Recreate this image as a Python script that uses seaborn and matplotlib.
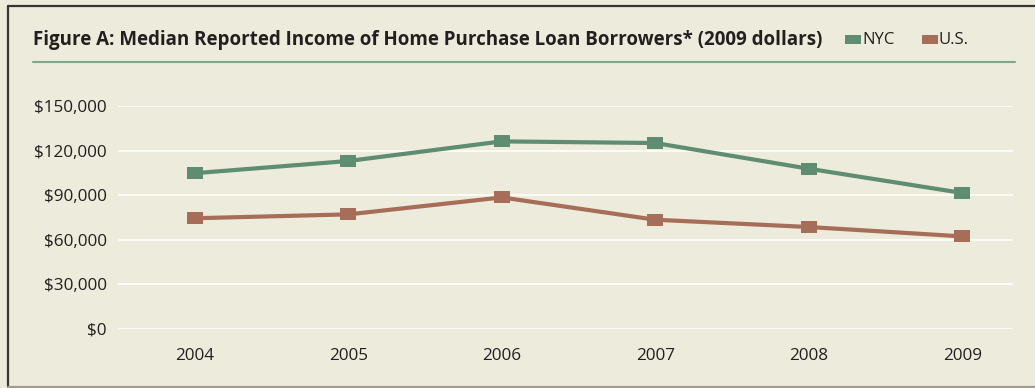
import matplotlib
matplotlib.use("Agg")
import matplotlib.pyplot as plt
import seaborn as sns
import pandas as pd
from matplotlib.patches import Rectangle
from matplotlib.lines import Line2D
from matplotlib.ticker import FuncFormatter, FixedLocator

years = ["2004", "2005", "2006", "2007", "2008", "2009"]
nyc = [104800, 113000, 126200, 125100, 107800, 91500]
us = [74500, 77100, 88500, 73500, 68600, 62300]
series_names = ["NYC", "U.S."]
yticks = [0, 30000, 60000, 90000, 120000, 150000]

BG = "#EDEBDB"
GREEN = "#5F8D72"
RED = "#A66E59"
TEXT = "#231F20"

sns.set_theme(style="white")
plt.rcParams["font.family"] = ["Open Sans", "DejaVu Sans"]

df = pd.DataFrame({
    "year": years * 2,
    "value": nyc + us,
    "series": [series_names[0]] * len(years) + [series_names[1]] * len(years),
})

fig = plt.figure(figsize=(10.35, 3.88), dpi=100)
fig.patch.set_facecolor(BG)
ax = fig.add_axes([118 / 1035, 1 - 329 / 388, (1013 - 118) / 1035, (329 - 106) / 388])
ax.set_facecolor(BG)

rect_marker = [(-1.4, -1), (1.4, -1), (1.4, 1), (-1.4, 1), (-1.4, -1)]
sns.lineplot(data=df, x="year", y="value", hue="series",
             palette={"NYC": GREEN, "U.S.": RED}, marker=rect_marker,
             markersize=11.5, markeredgewidth=0, linewidth=3, legend=False,
             ax=ax, clip_on=False, zorder=3)

ax.set_ylim(0, 150000)
ax.set_xlim(-0.5, 5.33)
ax.set_yticks(yticks)
ax.yaxis.set_major_formatter(FuncFormatter(lambda v, p: "${:,.0f}".format(v)))
ax.grid(axis="y", color="white", linewidth=1.2, zorder=0)
ax.set_axisbelow(True)
for s in ax.spines.values():
    s.set_visible(False)
ax.set_xlabel("")
ax.set_ylabel("")
ax.tick_params(axis="y", length=0, pad=8, labelsize=12.3, labelcolor=TEXT)
ax.tick_params(axis="x", length=0, pad=14, labelsize=12.3, labelcolor=TEXT)
# category boundary ticks along baseline
ax.xaxis.set_minor_locator(FixedLocator([-0.5, 0.5, 1.5, 2.5, 3.5, 4.5]))
ax.tick_params(axis="x", which="minor", direction="in", length=5, width=1.2, color="white")

# frame
fig.add_artist(Line2D([7.5 / 1035, 7.5 / 1035], [1 - 387 / 388, 1 - 6 / 388],
                      transform=fig.transFigure, color="#3A3535", linewidth=1.6))
fig.add_artist(Line2D([7.5 / 1035, 1.0], [1 - 6 / 388, 1 - 6 / 388],
                      transform=fig.transFigure, color="#3A3535", linewidth=1.6))
fig.add_artist(Line2D([7.5 / 1035, 1.0], [1 - 386.5 / 388, 1 - 386.5 / 388],
                      transform=fig.transFigure, color="#A09C8E", linewidth=1.6))

# title
fig.text(33 / 1035, 1 - 40 / 388,
         "Figure A: Median Reported Income of Home Purchase Loan Borrowers* (2009 dollars)",
         fontsize=13.5, fontweight="bold", color=TEXT, va="center", ha="left",
         family=["Open Sans", "DejaVu Sans"])
fig.add_artist(Line2D([33 / 1035, 1015 / 1035], [1 - 62 / 388, 1 - 62 / 388],
                      transform=fig.transFigure, color="#7FA88E", linewidth=1.5))

# legend
for x0, col, lab in [(845, GREEN, series_names[0]), (922, RED, series_names[1])]:
    fig.add_artist(Rectangle((x0 / 1035, 1 - 43.5 / 388), 16 / 1035, 8.5 / 388,
                             transform=fig.transFigure, facecolor=col, edgecolor="none"))
    fig.text((x0 + 17) / 1035, 1 - 40 / 388, lab, fontsize=12, color=TEXT,
             va="center", ha="left")

fig.savefig("out.png", dpi=100, facecolor=BG)
